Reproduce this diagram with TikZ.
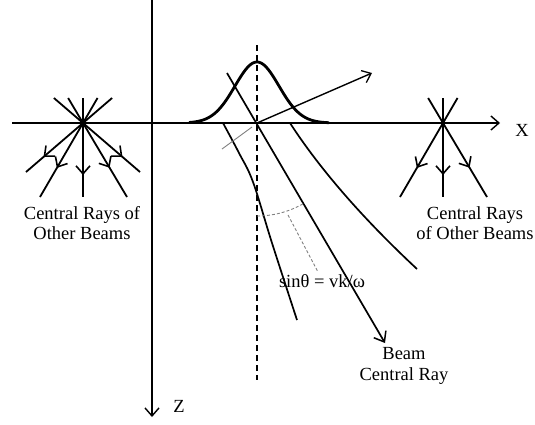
\documentclass[tikz,border=0pt]{standalone}
\usepackage{fontspec}
\setmainfont{Liberation Serif}
\usetikzlibrary{arrows.meta, decorations.markings}

\tikzset{
  axis/.style={line width=1.6pt, -{Straight Barb[length=8pt, width=14pt, line width=1.4pt]}},
  ray/.style={line width=1.8pt, postaction={decorate},
    decoration={markings, mark=at position 52pt with {\arrow{Straight Barb[length=8pt, width=14pt, line width=1.6pt]}}}},
  raytail/.style={line width=1.8pt},
  beamedge/.style={line width=1.7pt},
  guide/.style={gray, line width=0.9pt},
  lbl/.style={font=\fontsize{18.5}{20.5}\selectfont, align=center, inner sep=0pt},
}

\begin{document}
\begin{tikzpicture}[x=1pt, y=-1pt]
\useasboundingbox (0,0) rectangle (535,424);
% axes
\coordinate (xa) at (12,123);
\coordinate (xb) at (500,123);
\coordinate (za) at (152,0);
\coordinate (zb) at (152,417);
\draw[axis] (xa) -- (xb);
\draw[axis] (za) -- (zb);
\node[lbl] (xlbl) at (522,130) {X};
\node[lbl] (zlbl) at (179,406) {Z};
% central rays of the other beams
\coordinate (lc) at (83,123);
\coordinate (rc) at (443,123);
\foreach \dx/\dy in {-57/49, -43/74, 0/74, 44/74, 57/49} {
  \draw[ray] (lc) -- ++(\dx,\dy);
  \draw[raytail] (lc) -- ++({-\dx*25/\dy},-25);
}
\foreach \dx/\dy in {-43/74, 0/74, 44/74} {
  \draw[ray] (rc) -- ++(\dx,\dy);
  \draw[raytail] (rc) -- ++({-\dx*25/\dy},-25);
}
\node[lbl] (llbl) at (82,223) {Central Rays of\\Other Beams};
\node[lbl] (rlbl) at (475,223) {Central Rays\\of Other Beams};
% gaussian profile and beam axis
\draw[line width=2.8pt, line join=round]
  plot[domain=-68:72, samples=90] ({257+\x},{123-61*exp(-((\x)*(\x))/968)});
\coordinate (dtop) at (257,45);
\coordinate (dbot) at (257,380);
\draw[line width=2pt, dash pattern=on 6pt off 4pt] (dtop) -- (dbot);
% wave vector
\coordinate (src) at (257,123);
\coordinate (kv) at (372,73);
\draw[line width=1.4pt, -{Straight Barb[length=8pt, width=13pt, line width=1.3pt]}] (src) -- (kv);
% beam
\coordinate (rs) at (227,73);
\coordinate (rt) at (385,343);
\draw[beamedge, -{Straight Barb[length=9pt, width=14pt, line width=1.5pt]}] (rs) -- (rt);
\draw[beamedge] plot[smooth, tension=0.6] coordinates {(223,123) (239,153) (253,182) (272,243) (297,320)};
\coordinate (ea) at (290,123);
\coordinate (eb) at (417,269);
\draw[beamedge] (ea) .. controls (325,177) and (373,228) .. (eb);
% angle marks
\coordinate (wa) at (222,149);
\coordinate (wb) at (252,127);
\draw[guide] (wa) -- (wb);
\draw[guide, densely dashed] plot[domain=0:30, samples=20] ({257+93*sin(\x)},{123+93*cos(\x)});
\coordinate (pa) at (288,215);
\coordinate (pb) at (318,272);
\draw[guide, densely dashed] (pa) -- (pb);
\node[lbl] (sinlbl) at (322,281) {sinθ = vk/ω};
\node[lbl] (beamlbl) at (404,366) {Beam\\Central Ray};
\end{tikzpicture}
\end{document}
